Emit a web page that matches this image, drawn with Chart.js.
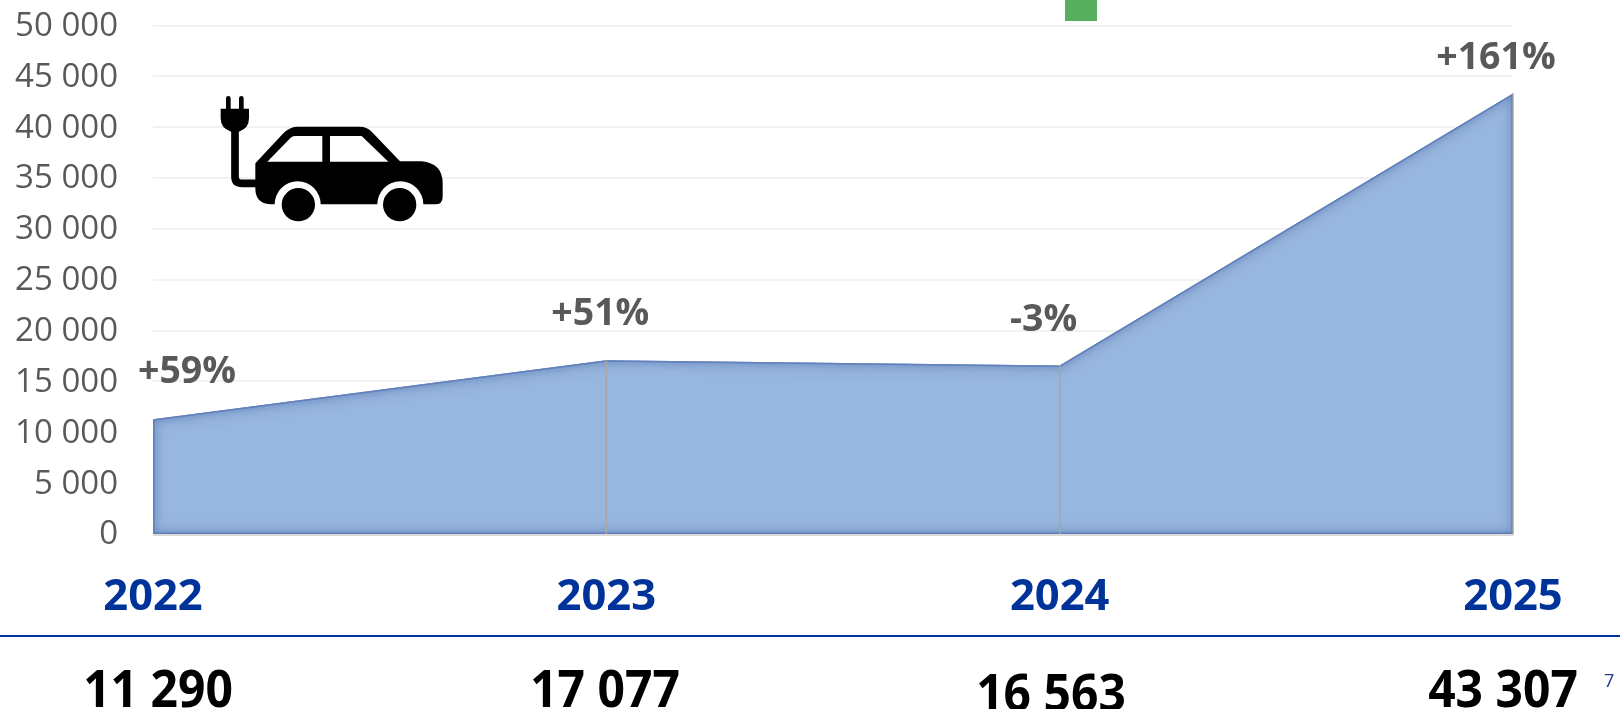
<!DOCTYPE html>
<html><head><meta charset="utf-8">
<script src="https://cdn.jsdelivr.net/npm/chart.js@4"></script>
<style>
html,body{margin:0;padding:0;background:#fff;width:1620px;height:709px;overflow:hidden}
#wrap{position:relative;width:1620px;height:709px;overflow:hidden}
canvas{position:absolute;left:0;top:0}
.v{position:absolute;font:700 48px "Open Sans",sans-serif;color:#000;transform:translateX(-50%) scaleY(1.08);white-space:nowrap;line-height:56px}
#rule{position:absolute;left:0;top:634.5px;width:1620px;height:2px;background:#003399}
#sq{position:absolute;left:1065px;top:0;width:32px;height:21px;background:#56b060}
#pg{position:absolute;left:1604px;top:668px;font:18px "Open Sans",sans-serif;color:#1f3a93}
#car{position:absolute;left:0;top:0}
</style></head><body>
<div id="wrap">
<canvas id="c" width="1620" height="709"></canvas>
<div id="rule"></div><div id="sq"></div>
<svg id="car" width="500" height="300" viewBox="0 0 1500 900">
<path d="M678 326V295a7 7 0 0 1 14 0V326ZM717 326V295a7 7 0 0 1 14 0V326ZM662 326H747V355Q747 385 717 395H693Q662 385 662 355Z" fill="#000"/>
<path d="M705 390V530Q705 550 727 550H775" fill="none" stroke="#000" stroke-width="23"/>
<path fill-rule="evenodd" d="M766 490L850 400Q870 380 890 380L1080 380Q1100 380 1115 395L1200 484L1265 484Q1328 490 1328 550L1328 590Q1328 613 1305 613L1270 613A69 69 0 0 0 1132 613L962 613A69 69 0 0 0 824 613L810 613Q766 610 766 565ZM802 485L872 413Q876 408 885 408L967 408L967 485ZM990 408L1085 408L1165 485L990 485Z"/>
<circle cx="895" cy="614" r="50"/><circle cx="1199" cy="614" r="50"/>
</svg>
<div class="v" id="v0" style="left:158px;top:660px"></div>
<div class="v" id="v1" style="left:605px;top:660px"></div>
<div class="v" id="v2" style="left:1051px;top:664px"></div>
<div class="v" id="v3" style="left:1503px;top:660px"></div>
<div id="pg">7</div>
</div>
<script>
const years = ['2022','2023','2024','2025'];
const sales = [11290,17077,16563,43307];
const growth = ['+59%','+51%','-3%','+161%'];
const axisMax = 50000, axisStep = 5000;

const fmt = n => String(n).replace(/\B(?=(\d{3})+(?!\d))/g,' ');
sales.forEach((s,i)=>document.getElementById('v'+i).textContent = fmt(s));

const labelOffset = [[34,-47],[-6,-46],[-16,-45],[-17,-35]];

const areaFx = {
  id:'areaFx',
  afterDatasetsDraw(chart){
    const {ctx,scales:{x,y}} = chart, pts = chart.getDatasetMeta(0).data, b = y.getPixelForValue(0);
    ctx.save();
    ctx.beginPath();
    ctx.moveTo(pts[0].x,b);
    pts.forEach(p=>ctx.lineTo(p.x,p.y));
    ctx.lineTo(pts[pts.length-1].x,b);
    ctx.closePath();
    ctx.save();
    ctx.clip();
    ctx.shadowColor='rgba(60,90,155,.9)';
    ctx.shadowBlur=13;
    ctx.strokeStyle='rgba(95,125,185,.6)';
    ctx.lineWidth=3;
    ctx.stroke();
    ctx.shadowBlur=7;
    ctx.stroke();
    ctx.restore();
    ctx.strokeStyle='#a6a6a6';
    ctx.lineWidth=1.5;
    pts.slice(1).forEach(p=>{ctx.beginPath();ctx.moveTo(p.x,p.y);ctx.lineTo(p.x,b+1);ctx.stroke();});
    ctx.strokeStyle='#d9d9d9';ctx.lineWidth=2;
    ctx.beginPath();ctx.moveTo(x.left,b+1);ctx.lineTo(x.right,b+1);ctx.stroke();
    ctx.fillStyle='#595959';
    ctx.font='700 37.5px "Open Sans",sans-serif';
    ctx.textAlign='center';ctx.textBaseline='middle';
    pts.forEach((p,i)=>ctx.fillText(growth[i],p.x+labelOffset[i][0],p.y+labelOffset[i][1]));
    ctx.restore();
  }
};

new Chart(document.getElementById('c'),{
  type:'line',
  data:{labels:years,datasets:[{data:sales,fill:'origin',backgroundColor:'#98b7df',borderWidth:0,pointRadius:0,tension:0}]},
  options:{
    responsive:false,animation:false,
    layout:{padding:{top:25.5,right:107,bottom:0,left:0}},
    plugins:{legend:{display:false},tooltip:{enabled:false}},
    scales:{
      x:{offset:false,
        afterFit(s){s.height=175;s.paddingLeft=0;s.paddingRight=0;},
        grid:{display:false},border:{display:false},
        ticks:{color:'#003399',font:{family:'"Open Sans"',weight:'700',size:43.5},padding:30,maxRotation:0,autoSkip:false}},
      y:{min:0,max:axisMax,
        afterFit(s){s.width=153;s.paddingTop=0;s.paddingBottom=0;},
        grid:{color:'#f2f2f2',lineWidth:2,drawTicks:false},border:{display:false},
        ticks:{stepSize:axisStep,color:'#595959',font:{family:'"Open Sans"',size:33,lineHeight:'2px'},padding:35,callback:v=>['',fmt(v)]}}
    }
  },
  plugins:[areaFx]
});
</script>
</body></html>
